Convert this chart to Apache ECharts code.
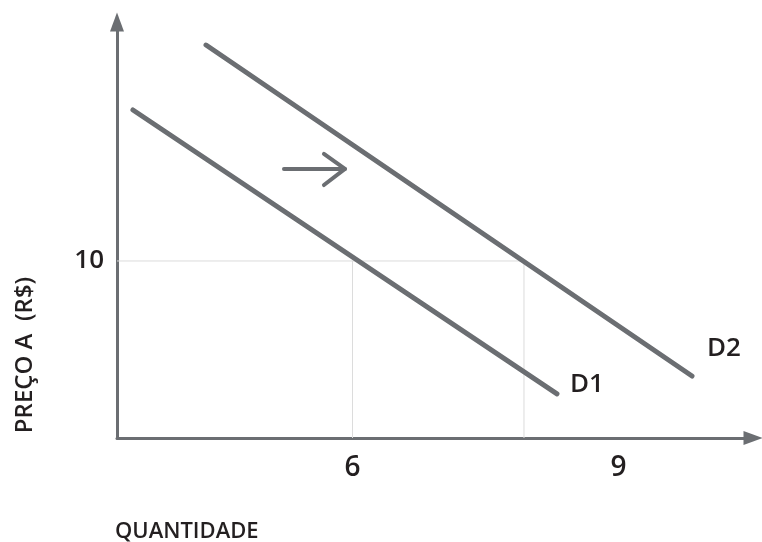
<!DOCTYPE html>
<html>
<head>
<meta charset="utf-8">
<script src="https://cdn.jsdelivr.net/npm/echarts@6/dist/echarts.min.js"></script>
<style>html,body{margin:0;padding:0;background:#fff;}#c{width:762px;height:542px;}</style>
</head>
<body>
<div id="c"></div>
<script>
// Axis ranges (data units)
const xMin = 3.344, xMax = 10.517;
const yMin = 0, yMax = 23.5;
// Tick labels
const xTickValues = [6, 9];
const yTickValues = [10];
// Demand curves [quantity, price]
const d1 = [[3.524, 18.53], [8.306, 2.49]];
const d2 = [[4.348, 22.20], [9.829, 3.50]];
// Reference (grid) lines
const priceRef = 10;
const qAtD1 = 6;
const qAtD2 = 7.934;
// Shift arrow
const arrowShaft = [[5.227, 15.20], [5.915, 15.20]];
const arrowHead = [[5.678, 16.05], [5.915, 15.20], [5.678, 14.29]];

const gray = '#6b6e72';
const txt = '#231f20';
const font = 'Open Sans';
const fw = 600;

const chart = echarts.init(document.getElementById('c'), null, {renderer: 'canvas'});
const gridStyle = {color: '#dcdcdc', width: 1};
function seg(data, style, extra) {
  return Object.assign({type: 'line', data: data, symbol: 'none', silent: true, lineStyle: style, z: 2}, extra || {});
}
chart.setOption({
  animation: false,
  backgroundColor: '#fff',
  textStyle: {fontFamily: font},
  grid: {left: 117, right: 762 - 753, top: 22, bottom: 542 - 438, containLabel: false},
  xAxis: {
    type: 'value', min: xMin, max: xMax,
    axisLine: {show: true, symbol: ['none', 'triangle'], symbolSize: [14, 19], lineStyle: {color: gray, width: 3}},
    axisTick: {show: false},
    splitLine: {show: false},
    axisLabel: {customValues: xTickValues, fontSize: 28, fontWeight: fw, color: txt, margin: 16, fontFamily: font}
  },
  yAxis: {
    type: 'value', min: yMin, max: yMax,
    axisLine: {show: true, symbol: ['none', 'triangle'], symbolSize: [14, 19], lineStyle: {color: gray, width: 3}},
    axisTick: {show: false},
    splitLine: {show: false},
    axisLabel: {customValues: yTickValues, fontSize: 26, fontWeight: fw, color: txt, margin: 13, fontFamily: font}
  },
  series: [
    seg([[xMin, priceRef], [qAtD2, priceRef]], gridStyle, {z: 1}),
    seg([[qAtD1, 0], [qAtD1, priceRef]], gridStyle, {z: 1}),
    seg([[qAtD2, 0], [qAtD2, priceRef]], gridStyle, {z: 1}),
    seg(d1, {color: gray, width: 5, cap: 'round'}, {
      endLabel: {show: true, formatter: 'D1', fontSize: 26, fontWeight: fw, color: txt, fontFamily: font, distance: 13, offset: [0, -9]}
    }),
    seg(d2, {color: gray, width: 5, cap: 'round'}, {
      endLabel: {show: true, formatter: 'D2', fontSize: 26, fontWeight: fw, color: txt, fontFamily: font, distance: 15, offset: [0, -27]}
    }),
    seg(arrowShaft, {color: gray, width: 4, cap: 'round'}),
    seg(arrowHead, {color: gray, width: 4, cap: 'round', join: 'round'})
  ],
  graphic: [
    {type: 'text', x: 25, y: 355, rotation: Math.PI / 2,
      style: {text: 'PREÇO A  (R$)', fontSize: 24, fontWeight: fw, fill: txt, fontFamily: font, align: 'center', verticalAlign: 'middle'}},
    {type: 'text', x: 115, y: 532,
      style: {text: 'QUANTIDADE', fontSize: 22, fontWeight: fw, fill: txt, fontFamily: font, align: 'left', verticalAlign: 'middle'}}
  ]
});
</script>
</body>
</html>
